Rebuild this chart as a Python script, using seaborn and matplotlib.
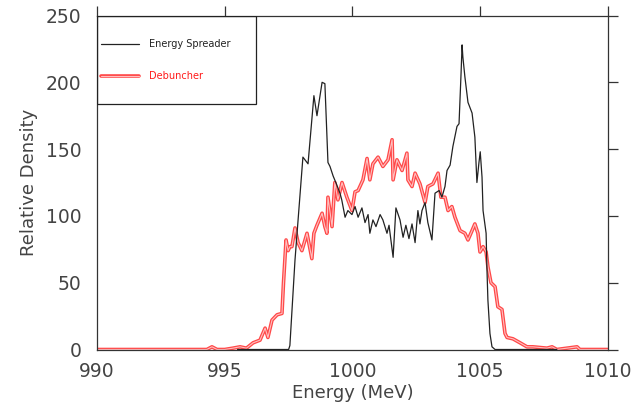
import matplotlib
matplotlib.use('Agg')
import matplotlib.pyplot as plt
import matplotlib.patheffects as pe
from matplotlib.patches import Rectangle
from matplotlib.lines import Line2D
import seaborn as sns

# Energy Spreader (black) profile
spreader_energy = [995.5, 997.50, 997.55, 997.75, 998.06, 998.26, 998.49, 998.61, 998.81, 998.92,
                   999.04, 999.12, 999.24, 999.39, 999.51, 999.58, 999.71, 999.82, 999.98, 1000.10,
                   1000.22, 1000.37, 1000.49, 1000.61, 1000.68, 1000.80, 1000.92, 1001.08, 1001.19, 1001.35,
                   1001.43, 1001.59, 1001.70, 1001.86, 1001.98, 1002.09, 1002.21, 1002.33, 1002.45, 1002.56,
                   1002.64, 1002.72, 1002.84, 1002.95, 1003.11, 1003.23, 1003.39, 1003.50, 1003.62, 1003.70,
                   1003.82, 1003.93, 1004.09, 1004.17, 1004.25, 1004.29, 1004.32, 1004.40, 1004.52, 1004.68,
                   1004.79, 1004.87, 1004.95, 1005.00, 1005.07, 1005.11, 1005.23, 1005.26, 1005.30, 1005.38,
                   1005.46, 1005.58, 1008.0]
spreader_density = [0, 0, 3, 67, 144, 139, 190, 175, 200, 199,
                    140, 137, 130, 123, 117, 112, 99, 104, 101, 107,
                    99, 106, 95, 101, 87, 97, 92, 101, 97, 87,
                    93, 69, 106, 97, 84, 93, 83, 94, 80, 104,
                    94, 104, 110, 95, 82, 117, 119, 114, 122, 134,
                    138, 152, 167, 169, 207, 228, 219, 204, 185, 177,
                    159, 125, 140, 148, 129, 104, 87, 62, 37, 12,
                    2, 0, 0]

# Debuncher (red) profile
debuncher_energy = [990.0, 994.3, 994.5, 994.7, 995.0, 995.32, 995.60, 995.85, 996.11, 996.38,
                    996.58, 996.69, 996.85, 997.05, 997.24, 997.30, 997.40, 997.48, 997.55, 997.63,
                    997.75, 997.87, 998.02, 998.22, 998.41, 998.49, 998.61, 998.81, 998.92, 999.00,
                    999.04, 999.20, 999.31, 999.43, 999.59, 999.78, 999.98, 1000.10, 1000.22, 1000.41,
                    1000.57, 1000.68, 1000.80, 1001.00, 1001.19, 1001.39, 1001.55, 1001.59, 1001.74, 1001.94,
                    1002.13, 1002.17, 1002.33, 1002.45, 1002.64, 1002.84, 1002.95, 1003.15, 1003.35, 1003.46,
                    1003.62, 1003.74, 1003.89, 1004.01, 1004.21, 1004.40, 1004.52, 1004.68, 1004.79, 1004.91,
                    1004.99, 1005.11, 1005.23, 1005.30, 1005.42, 1005.58, 1005.69, 1005.85, 1005.97, 1006.05,
                    1006.28, 1006.56, 1006.83, 1007.06, 1007.61, 1007.81, 1008.00, 1008.79, 1008.90, 1010.0]
debuncher_density = [0, 0, 2, 0, 0, 1, 2, 1, 5, 7,
                     16, 9, 22, 26, 27, 50, 82, 74, 77, 77,
                     91, 80, 74, 87, 68, 87, 93, 102, 92, 87,
                     114, 92, 125, 112, 125, 114, 104, 118, 119, 127,
                     143, 127, 139, 144, 137, 142, 157, 127, 142, 134,
                     147, 127, 122, 132, 124, 110, 122, 124, 132, 114,
                     114, 104, 107, 99, 89, 87, 82, 89, 94, 87,
                     73, 77, 73, 62, 50, 47, 32, 30, 12, 9,
                     8, 5, 2, 2, 1, 2, 0, 2, 0, 0]

x_ticks = [990, 995, 1000, 1005, 1010]
y_ticks = [0, 50, 100, 150, 200, 250]

sns.set_style('white')
plt.rcParams['font.family'] = ['DejaVu Sans']

red_fx = [pe.Stroke(linewidth=2.6, foreground='#ff1a1a', alpha=0.8), pe.Normal()]

fig = plt.figure(figsize=(6.41, 4.04), dpi=100)
ax = fig.add_axes([0.1513, 0.1349, 0.7972, 0.8267])

sns.lineplot(x=debuncher_energy, y=debuncher_density, ax=ax, color='#ffc0c0', lw=0.8,
             path_effects=red_fx)
sns.lineplot(x=spreader_energy, y=spreader_density, ax=ax, color='#222222', lw=0.9)

ax.set_xlim(990, 1010)
ax.set_ylim(0, 250)
ax.set_xticks(x_ticks)
ax.set_yticks(y_ticks)
ax.tick_params(axis='both', direction='out', length=7, width=0.9, color='#333333',
               labelsize=13.5, labelcolor='#444444')
ax.tick_params(axis='x', pad=2, top=True)
ax.tick_params(axis='y', pad=4, right=True)
for s in ax.spines.values():
    s.set_color('#333333')
    s.set_linewidth(0.9)
    s.set_visible(True)

ax.set_xlabel('Energy (MeV)', fontsize=13, color='#444444', labelpad=2)
ax.set_ylabel('Relative Density', fontsize=13, color='#444444', labelpad=6)

# legend box in the upper left corner
ax.add_patch(Rectangle((0, 0.735), 0.311, 0.265, transform=ax.transAxes, fill=False,
                       edgecolor='#222222', lw=0.9, zorder=5))
ax.add_line(Line2D([0.008, 0.082], [0.915, 0.915], transform=ax.transAxes, color='#222222', lw=0.9))
ax.add_line(Line2D([0.008, 0.082], [0.819, 0.819], transform=ax.transAxes, color='#ffc0c0', lw=0.8,
                   path_effects=red_fx))
ax.text(0.102, 0.915, 'Energy Spreader', transform=ax.transAxes, fontsize=7, color='#222222', va='center')
ax.text(0.102, 0.819, 'Debuncher', transform=ax.transAxes, fontsize=7, color='#ff1a1a', va='center')

fig.savefig('out.png', dpi=100)
